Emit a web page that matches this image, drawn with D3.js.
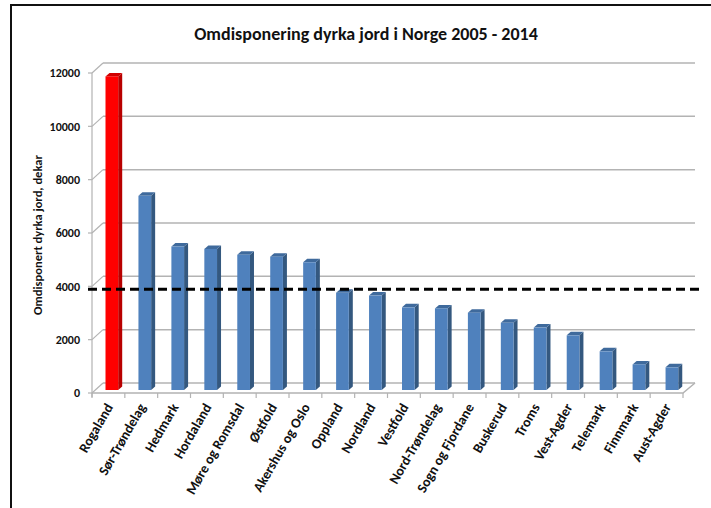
<!DOCTYPE html>
<html lang="no">
<head>
<meta charset="UTF-8">
<title>Omdisponering dyrka jord i Norge 2005 - 2014</title>
<style>
  body { margin: 0; background: #fff; }
  svg { font-family: Carlito, "Liberation Sans Narrow", "Open Sans", sans-serif; }
</style>
<script src="https://d3js.org/d3.v7.min.js"></script>
</head>
<body>
<div id="chart"></div>
<script>
// data
const fylker = ["Rogaland", "Sør-Trøndelag", "Hedmark", "Hordaland", "Møre og Romsdal", "Østfold",
  "Akershus og Oslo", "Oppland", "Nordland", "Vestfold", "Nord-Trøndelag", "Sogn og Fjordane",
  "Buskerud", "Troms", "Vest-Agder", "Telemark", "Finnmark", "Aust-Agder"];
const dekar = [11760, 7280, 5380, 5290, 5070, 5000, 4790, 3650, 3540, 3100, 3060, 2900,
  2520, 2340, 2050, 1450, 960, 850];
const highlight = ["Rogaland"];
const snitt = 3780;
const yTicks = [0, 2000, 4000, 6000, 8000, 10000, 12000];

const width = 711, height = 508;
const depthX = 11, depthY = -10;   // offset front -> back wall
const barDX = 4, barDY = -3.5;     // depth of each bar

const svg = d3.select("#chart").append("svg")
  .attr("width", width)
  .attr("height", height);

// y scales: back wall, front axis, bars (mid depth)
const yBack = d3.scaleLinear().domain([0, 12000]).range([383, 63]);
const yFront = v => yBack(v) - depthY;
const yBar = v => yBack(v) + 7;

// x scales: front floor edge and bar row
const xFloor = d3.scaleBand().domain(fylker).range([92, 683]);
const xBar = d3.scaleBand().domain(fylker).range([93, 686]);

const grid = "#b3b3b3";

// outer frame
svg.append("path")
  .attr("d", "M11,508V5H711")
  .attr("fill", "none")
  .attr("stroke", "#111")
  .attr("stroke-width", 2);

// title
svg.append("text")
  .attr("x", 366)
  .attr("y", 40)
  .attr("text-anchor", "middle")
  .attr("font-size", 18)
  .attr("font-weight", "bold")
  .attr("fill", "#111")
  .text("Omdisponering dyrka jord i Norge 2005 - 2014");

// back wall gridlines + left wall diagonals
const x0 = xFloor.range()[0], x1 = xFloor.range()[1];
yTicks.forEach(v => {
  svg.append("line")
    .attr("x1", x0 + depthX).attr("x2", x1 + depthX + 1)
    .attr("y1", yBack(v)).attr("y2", yBack(v))
    .attr("stroke", grid).attr("stroke-width", 1.5);
  svg.append("line")
    .attr("x1", x0).attr("x2", x0 + depthX)
    .attr("y1", yFront(v)).attr("y2", yBack(v))
    .attr("stroke", grid).attr("stroke-width", 1.2);
  svg.append("line")
    .attr("x1", x0 - 4).attr("x2", x0)
    .attr("y1", yFront(v)).attr("y2", yFront(v))
    .attr("stroke", grid).attr("stroke-width", 1.2);
  svg.append("text")
    .attr("x", 80)
    .attr("y", yFront(v))
    .attr("dy", "0.35em")
    .attr("text-anchor", "end")
    .attr("font-size", 12)
    .attr("font-weight", "bold")
    .attr("fill", "#111")
    .text(v);
});

// front y axis line
svg.append("line")
  .attr("x1", x0).attr("x2", x0)
  .attr("y1", yFront(12000)).attr("y2", yFront(0) + 4)
  .attr("stroke", grid).attr("stroke-width", 1.2);

// floor front + right edge
svg.append("path")
  .attr("d", `M${x0},${yFront(0)}H${x1}L${x1 + depthX + 1},${yBack(0)}`)
  .attr("fill", "none")
  .attr("stroke", grid).attr("stroke-width", 1.5);

// x ticks
d3.range(fylker.length + 1).forEach(i => {
  const x = x0 + i * xFloor.step();
  svg.append("line")
    .attr("x1", x).attr("x2", x)
    .attr("y1", yFront(0)).attr("y2", yFront(0) + 5)
    .attr("stroke", grid).attr("stroke-width", 1.2);
});

// bars
const bw = 12.7;
const bars = svg.selectAll(".bar")
  .data(fylker.map((f, i) => ({ name: f, value: dekar[i] })))
  .enter().append("g")
  .attr("class", "bar");

const colors = d => highlight.includes(d.name)
  ? { front: "#ff0000", side: "#b80000", top: "#d00000" }
  : { front: "#4f81bd", side: "#34587f", top: "#3f6a9c" };

bars.each(function (d) {
  const g = d3.select(this);
  const bx = xBar(d.name) + 12.5;
  const top = yBar(d.value), base = yBar(0);
  const c = colors(d);
  // side face
  g.append("path")
    .attr("d", `M${bx + bw},${top}L${bx + bw + barDX},${top + barDY}V${base + barDY}L${bx + bw},${base}Z`)
    .attr("fill", c.side);
  // top cap
  g.append("path")
    .attr("d", `M${bx},${top}L${bx + barDX},${top + barDY}H${bx + bw + barDX}L${bx + bw},${top}Z`)
    .attr("fill", c.top);
  // front face
  g.append("rect")
    .attr("x", bx).attr("y", top)
    .attr("width", bw).attr("height", base - top)
    .attr("fill", c.front);
});

// dashed reference line
svg.append("line")
  .attr("x1", 88).attr("x2", 699)
  .attr("y1", yBar(snitt)).attr("y2", yBar(snitt))
  .attr("stroke", "#000")
  .attr("stroke-width", 3)
  .attr("stroke-dasharray", "9,5");

// category labels
fylker.forEach(f => {
  const cx = xFloor(f) + xFloor.bandwidth() / 2 + 5;
  svg.append("text")
    .attr("transform", `translate(${cx},${407}) rotate(-60)`)
    .attr("text-anchor", "end")
    .attr("font-size", 14)
    .attr("font-weight", "bold")
    .attr("fill", "#111")
    .text(f);
});

// y axis title
svg.append("text")
  .attr("transform", "translate(42,235) rotate(-90)")
  .attr("text-anchor", "middle")
  .attr("font-size", 12.5)
  .attr("font-weight", "bold")
  .attr("fill", "#111")
  .text("Omdisponert dyrka jord, dekar");
</script>
</body>
</html>
